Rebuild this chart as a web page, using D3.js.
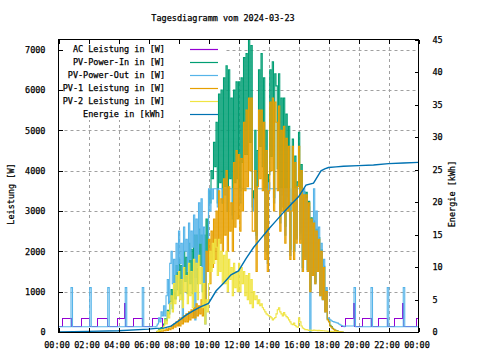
<!DOCTYPE html>
<html><head><meta charset="utf-8">
<script src="https://cdn.jsdelivr.net/npm/d3@7"></script>
<style>
body{margin:0;background:#fff}
svg text{font-family:"DejaVu Sans Mono",monospace;font-size:8.5px;fill:#000;stroke:#000;stroke-width:0.25px}
</style></head><body>
<svg id="chart" width="480" height="360"></svg>
<script>
// ---------- data ----------
const title = "Tagesdiagramm vom 2024-03-23";
const seriesNames = ["AC Leistung in [W]","PV-Power-In in [W]","PV-Power-Out in [W]","PV-1 Leistung in [W]","PV-2 Leistung in [W]","Energie in [kWh]"];
const seriesColors = ["#9400d3","#009e73","#56b4e9","#e69f00","#f0e442","#0072b2"];
const xTickLabels = ["00:00","02:00","04:00","06:00","08:00","10:00","12:00","14:00","16:00","18:00","20:00","22:00","00:00"];
const yTicks = [0,1000,2000,3000,4000,5000,6000,7000];
const y2Ticks = [0,5,10,15,20,25,30,35,40,45];
const yLabel = "Leistung [W]";
const y2Label = "Energie [kWh]";

// daytime samples, every 5 minutes starting at dayStart
const dayStart = "06:30";
const dayStep = 5;
const pvIn = [
  0,20,70,40,110,80, 200,330,280,540,450,760, 1050,580,1400,820,1650,1050,
  1800,950,1650,800,2000,1250, 1850,950,2200,1200,2050,950, 2400,1350,2400,1200,2550,1650,
  2400,1000,2400,800,2800,2000, 3500,3200,4000,3800,4700,4100, 5200,3200,5900,3700,6000,3200,
  6300,3600,6600,3000,6500,3800, 5800,2900,6000,3700,6200,3800, 6200,3500,6300,4200,6800,4400,
  6900,4400,7250,4700,7100,3100, 3500,5000,2400,4500,6500,4600, 6900,4100,6300,2300,5000,1920,
  3900,6500,4350,6700,3330,6400, 6100,4050,6400,3000,5800,3400, 5800,2620,5400,3350,5100,2050,
  3200,4780,2020,4360,2330,3720, 4950,2450,4150,1600,3480,1860, 3460,1550,3240,1050,2830,1440,
  2750,1240,2545,1535,2340,930, 2035,830,1630,525,1025,320, 270,165,135,90,70,45,
  35,25,10,5,0,0, 0];
const pvOutDay = [
  150,200,350,250,500,400, 650,400,900,1300,700,1700, 2000,1200,1800,1000,2200,1500,
  2500,1700,2200,300,2600,2000, 2300,1500,2700,1800,2500,2100, 2900,300,2800,1600,3200,2200,
  3300,1200,2600,200,2000,1500, 3550,3000,3550,3300,3550,3550, 3550,3100,3550,3550,3550,3200,
  3550,3400,3550,3000,3550,3550, 3550,2800,3550,3550,3550,3550, 3550,3200,3550,3550,3550,3550,
  3550,3550,3550,3550,3550,3000, 3300,3550,2300,3550,3550,3550, 3550,3550,3550,2000,3550,1700,
  3700,3550,3550,3550,3200,3550, 3550,3550,3550,2700,3550,3100, 3550,2400,3550,3100,3550,1900,
  3200,3550,2000,3550,2300,3550, 3550,2300,3550,1500,3550,1800, 3300,1500,3100,0,2700,1400,
  3550,1200,3000,1500,2600,900, 2200,800,1800,500,1100,350, 330,300,280,260,250,240,
  230,220,200,180,160,150, 130];
const pv1 = [
  0,0,20,10,30,20, 50,30,80,40,100,60, 150,80,200,120,250,150,
  300,150,350,200,400,250, 450,250,500,300,550,350, 600,350,700,400,650,450,
  800,400,1200,600,2000,1500, 2300,1200,2500,1600,2800,1800, 3000,1800,3500,2200,3300,2000,
  3800,2400,4000,2000,3600,2500, 3200,2000,4200,2600,4500,2800, 4400,2500,4300,3000,5200,3500,
  5500,3600,5800,4000,5800,2500, 2500,4000,1500,3600,5500,3800, 5500,3500,5200,1800,4500,1500,
  3500,5700,4000,5800,3000,5700, 5200,3500,5600,2500,5000,3000, 5100,2200,4800,3000,4600,1800,
  3000,4600,1800,4200,2200,3600, 4600,2200,4000,1500,3400,1800, 3400,1500,3200,1000,2800,1400,
  2700,1200,2500,1500,2300,900, 2000,800,1600,500,1000,300, 250,150,120,80,60,40,
  30,20,10,5,0,0, 0];
const pv2 = [
  0,20,50,30,80,60, 150,300,200,500,350,700, 900,500,1200,700,1400,900,
  1500,800,1300,600,1600,1000, 1400,700,1700,900,1500,600, 1800,1000,1700,800,1900,1200,
  1600,600,1200,200,800,500, 1200,2000,1500,2200,1700,2300, 2100,1400,2300,1500,2000,1200,
  1900,1200,2000,1000,1800,1300, 1600,900,1700,1100,1500,1000, 1700,1000,1600,1200,1500,900,
  1400,800,1450,700,1300,600, 1000,800,900,700,800,650, 700,600,550,500,450,420,
  400,380,350,300,330,360, 450,550,600,500,450,400, 480,420,380,350,300,250,
  200,180,220,160,130,120, 350,250,150,100,80,60, 60,50,40,50,30,40,
  50,40,45,35,40,30, 35,30,30,25,25,20, 20,15,15,10,10,5,
  5,5,0,0,0,0, 0];

// night-time change points [time, W]
const pvOutEarly = [["00:00",130],["00:50",1100],["00:56",130],["02:05",1100],["02:11",130],
  ["03:17",1100],["03:23",130],["04:27",1100],["04:33",130],["05:35",1100],["05:41",130],["06:30",150]];
const pvOutLate = [["19:00",130],["19:05",150],["19:42",1100],["19:48",130],["20:50",1100],["20:56",130],
  ["21:55",1100],["22:01",130],["22:59",1100],["23:05",130],["24:00",130]];
const acPower = [["00:00",130],["00:15",340],["00:50",130],["01:32",340],["02:05",130],
  ["02:37",340],["03:17",130],["03:55",340],["04:22",700],["04:27",130],["05:00",340],
  ["05:35",130],["06:15",340],["06:55",130],["07:00",null],
  ["18:50",130],["19:08",340],["19:38",700],["19:42",130],["20:16",340],["20:50",130],
  ["21:20",340],["21:55",130],["22:24",340],["22:55",700],["22:59",130],["23:51",340],["24:00",340]];

const energyTimes = ["00:00","02:00","04:00","06:00","06:30","07:00","07:30","08:00","08:30","09:00",
  "09:30","10:00","10:30","11:00","11:30","12:00","12:30","13:00","13:30","14:00","14:30","15:00",
  "15:30","16:00","16:30","17:00","17:30","17:45","18:00","18:30","19:00","20:00","21:00","22:00","23:00","24:00"];
const energy = [0,0.1,0.2,0.45,0.55,0.6,0.9,1.7,2.6,3.3,
  3.9,4.4,6.3,7.5,8.8,9.4,11.3,13.0,14.4,15.8,17.1,18.4,
  19.6,20.8,22.6,22.9,24.8,25.1,25.3,25.4,25.5,25.6,25.7,25.9,26.0,26.1];

// ---------- layout ----------
const L = 58.5, R = 418.5, T = 39.5, B = 332;
const toMin = s => { const [h,m] = s.split(":").map(Number); return h*60+m; };
const svg = d3.select("#chart");
const x = d3.scaleLinear().domain([0,1440]).range([L,R]);
const y = d3.scaleLinear().domain([0,7250]).range([B,T]);
const y2 = d3.scaleLinear().domain([0,45]).range([B,T]);

const day = arr => arr.map((v,i)=>({t: toMin(dayStart)+i*dayStep, v}));
const pts = arr => arr.map(([s,v])=>({t: toMin(s), v}));

// title
svg.append("text").attr("x",223).attr("y",21).attr("text-anchor","middle").text(title);

// grid
const gGrid = svg.append("g").attr("stroke","#a0a0a0").attr("stroke-dasharray","3,3").attr("stroke-width",1);
const xTickVals = xTickLabels.map((d,i)=>i*120);
xTickVals.slice(1,-1).forEach(t=>{
  gGrid.append("line").attr("x1",Math.round(x(t))+0.5).attr("x2",Math.round(x(t))+0.5).attr("y1",B).attr("y2",T);
});
yTicks.slice(1).forEach(v=>{
  gGrid.append("line").attr("x1",L).attr("x2",R).attr("y1",Math.round(y(v))+0.5).attr("y2",Math.round(y(v))+0.5);
});
// key box (opaque)
svg.append("rect").attr("x",L+0.5).attr("y",T+0.5).attr("width",165).attr("height",80).attr("fill","#fff");

// series
const plot = svg.append("g");
function draw(data, color, ys, curve, crisp, w=1){
  const ln = d3.line().defined(d=>d.v!=null).x(d=>x(d.t)).y(d=>ys(d.v)).curve(curve);
  plot.append("path").datum(data).attr("d",ln).attr("fill","none").attr("stroke",color)
    .attr("stroke-width",w).attr("shape-rendering",crisp?"crispEdges":"auto");
}
const S = d3.curveStepAfter, LIN = d3.curveLinear;
draw(pts(acPower), seriesColors[0], y, S, true);
draw(day(pvIn), seriesColors[1], y, S, false, 1.1);
draw(pts(pvOutEarly), seriesColors[2], y, S, false, 1.1);
draw(day(pvOutDay), seriesColors[2], y, S, false, 1.1);
draw(pts(pvOutLate), seriesColors[2], y, S, false, 1.1);
draw(day(pv1), seriesColors[3], y, S, false, 1.1);
draw(day(pv2), seriesColors[4], y, S, false, 1.1);
draw(energyTimes.map((s,i)=>({t:toMin(s), v:energy[i]})), seriesColors[5], y2, LIN, false, 1.4);

// legend
seriesNames.forEach((n,i)=>{
  const yy = 49 + i*13;
  svg.append("text").attr("x",165).attr("y",yy+3).attr("text-anchor","end").text(n);
  svg.append("line").attr("x1",190).attr("x2",218).attr("y1",yy+0.5).attr("y2",yy+0.5)
    .attr("stroke",seriesColors[i]).attr("stroke-width",1.2);
});

// border
svg.append("rect").attr("x",L).attr("y",T).attr("width",R-L).attr("height",B-T+0.5)
  .attr("fill","none").attr("stroke","#000").attr("stroke-width",1).attr("shape-rendering","crispEdges");

// axes
const ax = svg.append("g").attr("transform",`translate(0,${B})`)
  .call(d3.axisBottom(x).tickValues(xTickVals).tickFormat((d,i)=>xTickLabels[i]).tickSizeInner(-4).tickSizeOuter(0).tickPadding(10));
const axTop = svg.append("g").attr("transform",`translate(0,${T})`)
  .call(d3.axisTop(x).tickValues(xTickVals).tickFormat("").tickSizeInner(-4).tickSizeOuter(0));
const ay = svg.append("g").attr("transform",`translate(${L},0)`)
  .call(d3.axisLeft(y).tickValues(yTicks).tickFormat(d3.format("d")).tickSizeInner(-4).tickSizeOuter(0).tickPadding(13));
const ay2 = svg.append("g").attr("transform",`translate(${R},0)`)
  .call(d3.axisRight(y2).tickValues(y2Ticks).tickFormat(d3.format("d")).tickSizeInner(-4).tickSizeOuter(0).tickPadding(14));
[ax,axTop,ay,ay2].forEach(g=>{
  g.select(".domain").remove();
  g.selectAll("line").attr("stroke","#000").attr("shape-rendering","crispEdges");
  g.attr("font-family",null).attr("font-size",null);
});
ax.selectAll("text").attr("dx",-2);

// axis titles
svg.append("text").attr("transform","translate(14,194) rotate(-90)").attr("text-anchor","middle").text(yLabel);
svg.append("text").attr("transform","translate(455,194) rotate(-90)").attr("text-anchor","middle").text(y2Label);
</script>
</body></html>
